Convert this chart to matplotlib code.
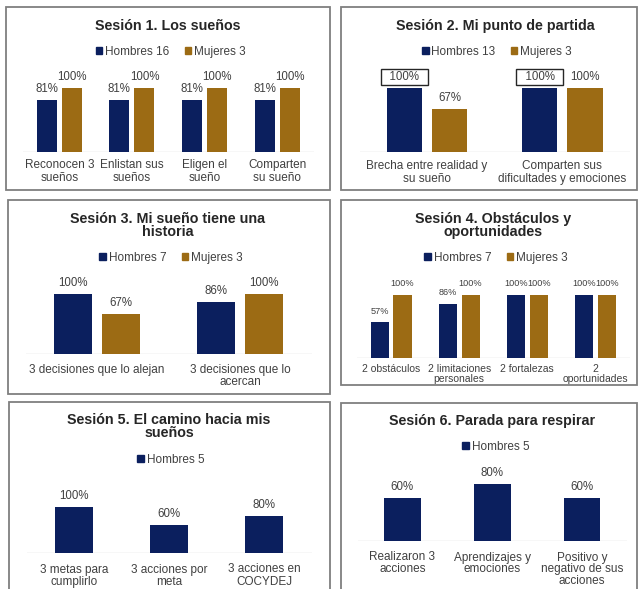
import matplotlib
matplotlib.use('Agg')
import matplotlib.pyplot as plt
from matplotlib.patches import Patch, Rectangle

plt.rcParams['font.family'] = ['Liberation Sans', 'DejaVu Sans']

NAVY = '#0b1f5e'
GOLD = '#9c6b14'
W, H = 639, 589

# ---------------- data ----------------
s1_title = 'Sesión 1. Los sueños'
s1_categories = ['Reconocen 3\nsueños', 'Enlistan sus\nsueños', 'Eligen el\nsueño', 'Comparten\nsu sueño']
s1_series = ['Hombres 16', 'Mujeres 3']
s1_hombres = [81, 81, 81, 81]
s1_mujeres = [100, 100, 100, 100]

s2_title = 'Sesión 2. Mi punto de partida'
s2_categories = ['Brecha entre realidad y\nsu sueño', 'Comparten sus\ndificultades y emociones']
s2_series = ['Hombres 13', 'Mujeres 3']
s2_hombres = [100, 100]
s2_mujeres = [67, 100]

s3_title = 'Sesión 3. Mi sueño tiene una\nhistoria'
s3_categories = ['3 decisiones que lo alejan', '3 decisiones que lo\nacercan']
s3_series = ['Hombres 7', 'Mujeres 3']
s3_hombres = [100, 86]
s3_mujeres = [67, 100]

s4_title = 'Sesión 4. Obstáculos y\noportunidades'
s4_categories = ['2 obstáculos', '2 limitaciones\npersonales', '2 fortalezas', '2\noportunidades']
s4_series = ['Hombres 7', 'Mujeres 3']
s4_hombres = [57, 86, 100, 100]
s4_mujeres = [100, 100, 100, 100]

s5_title = 'Sesión 5. El camino hacia mis\nsueños'
s5_categories = ['3 metas para\ncumplirlo', '3 acciones por\nmeta', '3 acciones en\nCOCYDEJ']
s5_series = ['Hombres 5']
s5_hombres = [100, 60, 80]

s6_title = 'Sesión 6. Parada para respirar'
s6_categories = ['Realizaron 3\nacciones', 'Aprendizajes y\nemociones', 'Positivo y\nnegativo de sus\nacciones']
s6_series = ['Hombres 5']
s6_hombres = [60, 80, 60]

# ---------------- drawing ----------------
fig = plt.figure(figsize=(W / 100, H / 100), dpi=100)
fig.patch.set_facecolor('white')

PX2PT = 72 / 100


def fx(x):
    return x / W


def fy(y):
    return 1 - y / H


def panel(box, axbox, title, title_xy, legend_xy, categories, names, values,
          bar_w, gap, tick_fs=8.5, tick_ls=1.1, tick_pad_px=7, boxed=(),
          title_ls=0.95, value_fs=8.3):
    x0, y0, x1, y1 = box
    fig.add_artist(Rectangle((fx(x0), fy(y1)), fx(x1) - fx(x0), fy(y0) - fy(y1),
                             transform=fig.transFigure, fill=False,
                             ec='#7f7f7f', lw=1.3))
    fig.text(fx(title_xy[0]), fy(title_xy[1]), title, ha='center', va='center',
             fontsize=10.3, fontweight='bold', color='#262626', linespacing=title_ls)
    ax0, ax1, yb, yt = axbox
    ax = fig.add_axes([fx(ax0), fy(yb), fx(ax1) - fx(ax0), fy(yt) - fy(yb)])
    n = len(categories)
    ax.set_xlim(-0.5, n - 0.5)
    ax.set_ylim(0, 100)
    colors = [NAVY, GOLD]
    k = len(values)
    off = (bar_w + gap) / 2 if k == 2 else 0
    handles = []
    for s, vals in enumerate(values):
        xs = [i + (-off if s == 0 else off) for i in range(n)] if k == 2 else list(range(n))
        ax.bar(xs, vals, width=bar_w, color=colors[s], zorder=3)
        for j, (xv, v) in enumerate(zip(xs, vals)):
            txt = f'{v}%'
            kw = {}
            if (s, j) in boxed:
                txt = f'  {v}%  '
                kw['bbox'] = dict(boxstyle='square,pad=0.18', fc='white',
                                  ec='#262626', lw=1.0)
            ax.annotate(txt, (xv, v), xytext=(0, 11 * PX2PT), textcoords='offset points',
                        ha='center', va='center', fontsize=value_fs, color='#404040',
                        annotation_clip=False, **kw)
        handles.append(Patch(color=colors[s], label=names[s]))
    ax.axhline(0, color='#d9d9d9', lw=1.0, zorder=2)
    for sp in ax.spines.values():
        sp.set_visible(False)
    ax.set_yticks([])
    ax.set_xticks(range(n))
    ax.set_xticklabels(categories, fontsize=tick_fs, color='#404040',
                       linespacing=tick_ls, va='top')
    ax.tick_params(axis='x', length=0, pad=tick_pad_px * PX2PT)
    ax.patch.set_alpha(0)
    fig.legend(handles=handles, loc='center', bbox_to_anchor=(fx(legend_xy[0]), fy(legend_xy[1])),
               bbox_transform=fig.transFigure, ncol=len(handles), frameon=False,
               fontsize=8.5, handlelength=0.55, handleheight=0.55, handletextpad=0.25,
               columnspacing=1.3, labelcolor='#404040', borderpad=0, borderaxespad=0)
    return ax


panel((6, 7, 330, 190), (23, 313.5, 152, 88), s1_title, (168, 26), (171, 52),
      s1_categories, s1_series, [s1_hombres, s1_mujeres], 0.276, 0.069,
      tick_ls=1.1, tick_pad_px=7)

panel((341, 7, 637, 190), (359.5, 630, 152, 88), s2_title, (495, 26), (497, 52),
      s2_categories, s2_series, [s2_hombres, s2_mujeres], 0.26, 0.074,
      tick_ls=1.1, tick_pad_px=8.5, boxed=((0, 0), (0, 1)))

panel((8, 200, 330, 394), (25.5, 311.5, 354, 294), s3_title, (168, 225.5), (171, 258),
      s3_categories, s3_series, [s3_hombres, s3_mujeres], 0.266, 0.07,
      tick_ls=1.02, tick_pad_px=9.5)

panel((341, 200, 637, 385), (357, 629.5, 358, 295), s4_title, (493, 225.5), (496, 258),
      s4_categories, s4_series, [s4_hombres, s4_mujeres], 0.265, 0.07,
      tick_fs=7.5, tick_ls=0.9, tick_pad_px=6.5, value_fs=6.6)

panel((9, 402, 330, 600), (26.5, 312, 553, 507), s5_title, (169, 426.5), (171, 460),
      s5_categories, s5_series, [s5_hombres], 0.4, 0,
      tick_ls=1.02, tick_pad_px=10.5)

panel((341, 403, 637, 600), (357.5, 627, 541, 469.75), s6_title, (492.5, 421), (496, 447),
      s6_categories, s6_series, [s6_hombres], 0.41, 0,
      tick_ls=0.95, tick_pad_px=10.5)

fig.savefig('out.png', dpi=100, facecolor='white')
